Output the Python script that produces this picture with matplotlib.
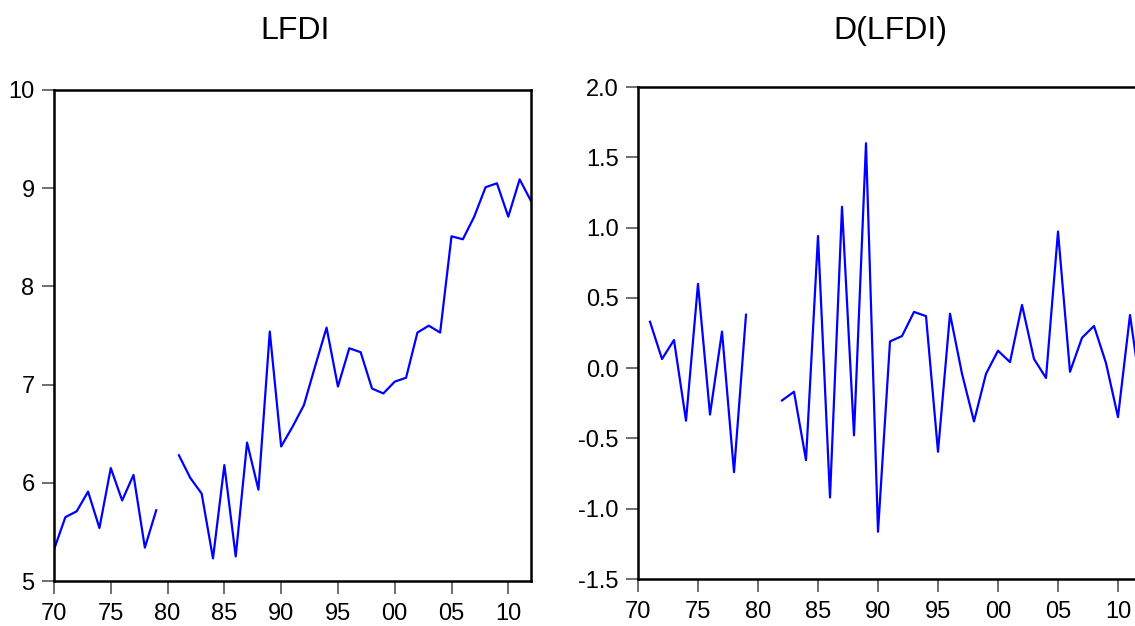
import numpy as np
import matplotlib
matplotlib.use("Agg")
import matplotlib.pyplot as plt

plt.rcParams['font.family'] = ['Liberation Sans', 'DejaVu Sans']

years = np.arange(1970, 2013)

# LFDI, 1980 missing
lfdi = [5.32, 5.65, 5.71, 5.91, 5.54, 6.15, 5.82, 6.08, 5.34, 5.72,
        np.nan, 6.28, 6.05, 5.89, 5.23, 6.18, 5.25, 6.41, 5.93, 7.54,
        6.37, 6.57, 6.79, 7.19, 7.58, 6.98, 7.37, 7.33, 6.96, 6.91,
        7.03, 7.07, 7.53, 7.60, 7.53, 8.51, 8.48, 8.71, 9.01, 9.05,
        8.71, 9.09, 8.87]

# D(LFDI), first difference (1970, 1980, 1981 missing)
dlfdi = [np.nan, 0.33, 0.065, 0.20, -0.374, 0.60, -0.33, 0.26, -0.74, 0.38,
         np.nan, np.nan, -0.23, -0.168, -0.654, 0.94, -0.92, 1.148, -0.478, 1.60,
         -1.164, 0.19, 0.228, 0.40, 0.37, -0.595, 0.387, -0.04, -0.379, -0.04,
         0.124, 0.043, 0.45, 0.065, -0.07, 0.972, -0.026, 0.216, 0.30, 0.036,
         -0.348, 0.378, -0.22]

xticks = [1970, 1975, 1980, 1985, 1990, 1995, 2000, 2005, 2010]
xlabels = ["70", "75", "80", "85", "90", "95", "00", "05", "10"]
left_yticks = [5, 6, 7, 8, 9, 10]
right_yticks = [-1.5, -1.0, -0.5, 0.0, 0.5, 1.0, 1.5, 2.0]

W, H = 1135, 626
fig = plt.figure(figsize=(W / 100, H / 100), dpi=100)


def px_axes(x0, y0, x1, y1):
    return fig.add_axes([x0 / W, 1 - y1 / H, (x1 - x0) / W, (y1 - y0) / H])


def style(ax):
    for s in ax.spines.values():
        s.set_linewidth(1.8)
        s.set_color("black")
    ax.tick_params(direction="out", length=9, width=1.2, color="#555555",
                   labelsize=17)
    ax.tick_params(axis="y", pad=5)
    ax.tick_params(axis="x", pad=7)
    ax.set_xticks(xticks)
    ax.set_xticklabels(xlabels)
    ax.set_xlim(1970, 2012)


ax1 = px_axes(54, 90, 531, 581)
ax1.plot(years, lfdi, color="#0000ff", lw=1.6)
style(ax1)
ax1.set_ylim(5, 10)
ax1.set_yticks(left_yticks)
ax1.set_yticklabels([str(v) for v in left_yticks])
fig.text(295 / W, 1 - 31 / H, "LFDI", ha="center", va="center", fontsize=23)

ax2 = px_axes(638, 87, 1142, 579)
ax2.plot(years, dlfdi, color="#0000ff", lw=1.6)
style(ax2)
ax2.spines["right"].set_visible(False)
ax2.set_ylim(-1.5, 2.0)
ax2.set_yticks(right_yticks)
ax2.set_yticklabels([f"{v:.1f}" for v in right_yticks])
fig.text(890 / W, 1 - 31 / H, "D(LFDI)", ha="center", va="center", fontsize=23)

fig.savefig("out.png", dpi=100)
